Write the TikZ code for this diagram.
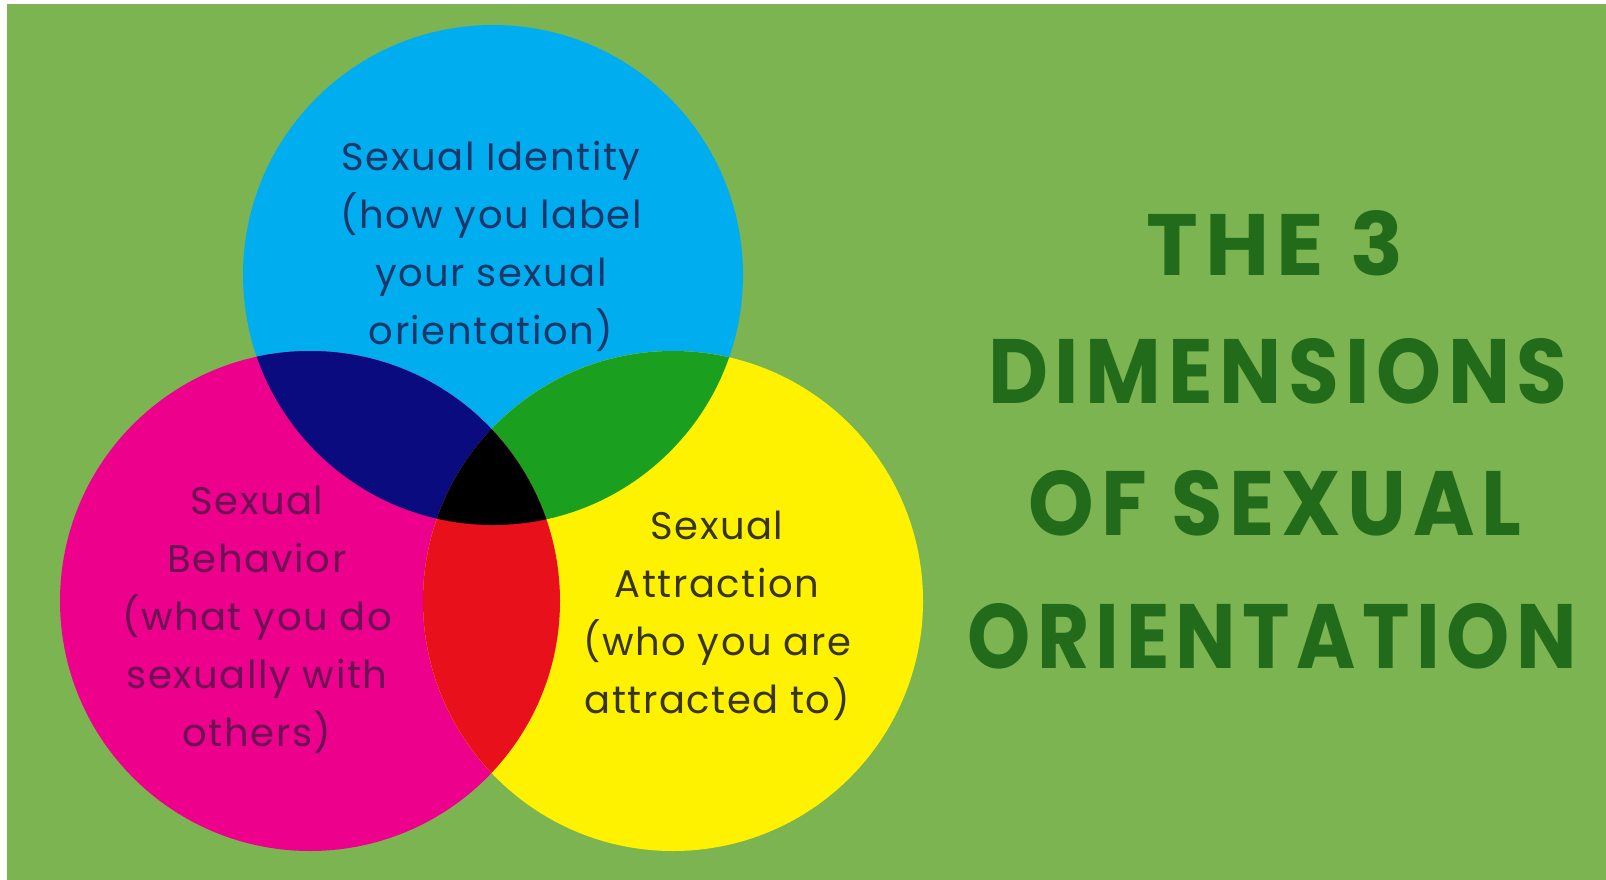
\documentclass[tikz,border=0pt]{standalone}
\usepackage{fontspec}
\setmainfont{Poppins}
\newfontfamily\circfont[LetterSpace=4]{Poppins}
\newfontfamily\titlefont[LetterSpace=8]{Poppins}
\definecolor{bggreen}{HTML}{7CB452}
\definecolor{cyanc}{HTML}{00AEEF}
\definecolor{magc}{HTML}{EC008C}
\definecolor{yelc}{HTML}{FFF200}
\definecolor{navyov}{HTML}{0B0B80}
\definecolor{greenov}{HTML}{1A9F1E}
\definecolor{redov}{HTML}{E8101A}
\definecolor{titlec}{HTML}{226B1A}
\definecolor{bluetext}{HTML}{1B3668}
\definecolor{magtext}{HTML}{6A1254}
\definecolor{yeltext}{HTML}{383510}
\begin{document}
\begin{tikzpicture}[x=1pt,y=-1pt,
  circtext/.style={font=\circfont\fontsize{38.5}{58}\selectfont, align=center, inner sep=0pt},
  titleline/.style={text=titlec, inner sep=0pt, font=\titlefont\bfseries}]
\useasboundingbox (0,0) rectangle (1606,880);
\fill[white] (0,0) rectangle (1606,880);
\fill[bggreen] (7,4) rectangle (1606,880);
\def\B{(493,275) circle[radius=250]}
\def\M{(310,601) circle[radius=250]}
\def\Y{(673,601) circle[radius=250]}
\fill[cyanc] \B;
\fill[magc] \M;
\fill[yelc] \Y;
\begin{scope}\clip \B; \fill[navyov] \M; \end{scope}
\begin{scope}\clip \B; \fill[greenov] \Y; \end{scope}
\begin{scope}\clip \M; \fill[redov] \Y; \end{scope}
\begin{scope}\clip \B; \clip \M; \fill[black] \Y; \end{scope}
\node[circtext, text=bluetext] (ident) at (491,246) {Sexual Identity\\(how you label\\your sexual\\orientation)};
\node[circtext, text=magtext] (behav) at (257,620) {Sexual\\Behavior\\(what you do\\sexually with\\others)};
\node[circtext, text=yeltext] (attr) at (717,616) {Sexual\\Attraction\\(who you are\\attracted to)};
\node[titleline] (t1) at (1275,243) {\resizebox{256pt}{65pt}{THE 3}};
\node[titleline] (t2) at (1278,371) {\resizebox{579pt}{65pt}{DIMENSIONS}};
\node[titleline] (t3) at (1275,503) {\resizebox{492pt}{65pt}{OF SEXUAL}};
\node[titleline] (t4) at (1272,636) {\resizebox{609pt}{65pt}{ORIENTATION}};
\end{tikzpicture}
\end{document}
